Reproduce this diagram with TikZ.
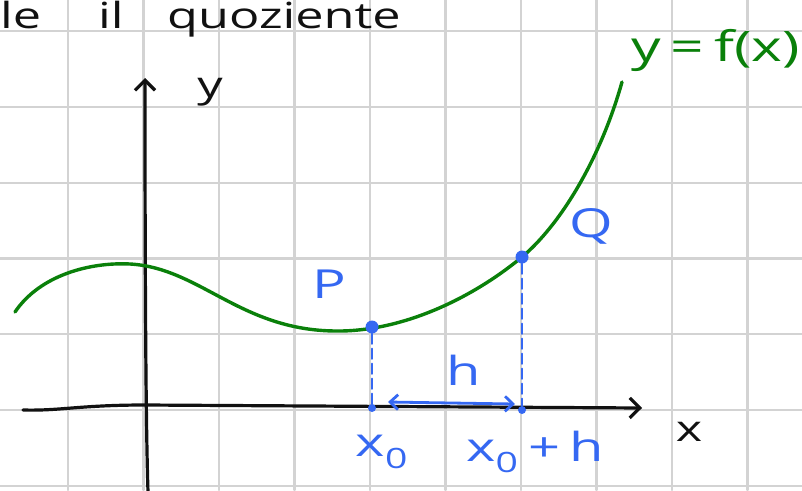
\documentclass[tikz,border=0pt]{standalone}
\usepackage{fontspec}
\setmainfont{Open Sans}
\usetikzlibrary{arrows.meta,calc,positioning}
\definecolor{gridGray}{HTML}{D3D3D3}
\definecolor{penGreen}{HTML}{0A800A}
\definecolor{penBlue}{HTML}{3568F2}
\definecolor{penInk}{HTML}{111111}
\newcommand{\wide}[1]{\scalebox{1.4}[1]{#1}}

\begin{document}
\begin{tikzpicture}[x=1pt,y=-1pt,>={Straight Barb[length=10pt,width=20pt]},line cap=round,line join=round]
\useasboundingbox (0,0) rectangle (802,490);
\clip (0,0) rectangle (802,490);
\path[fill=white] (0,0) rectangle (802,490);
\tikzset{gridline/.style={draw=gridGray,line width=2.2pt},axis/.style={draw=penInk,line width=3.2pt},curve/.style={draw=penGreen,line width=3.4pt},guide/.style={draw=penBlue,line width=2.4pt,dash pattern=on 10pt off 5pt},span/.style={draw=penBlue,line width=2.8pt,{Straight Barb[length=8pt,width=15pt]}-{Straight Barb[length=8pt,width=15pt]}},dot/.style={circle,fill=penBlue,inner sep=0pt,minimum size=13pt},footdot/.style={circle,fill=penBlue,inner sep=0pt,minimum size=8pt},ink/.style={text=penInk,font=\fontsize{36}{40}\selectfont},pen/.style={text=penBlue,font=\fontsize{40}{44}\selectfont}}
% quadretti
\foreach \gx in {0,...,9} \draw[gridline] ({68+75.5*\gx},0) -- ({68+75.5*\gx},490);
\foreach \gy in {0,...,6} \draw[gridline] (0,{31+75.8*\gy}) -- (802,{31+75.8*\gy});
% titolo
\node[ink,anchor=base west,inner sep=0pt] (tle) at (0,28) {\wide{le}};
\node[ink,anchor=base west,inner sep=0pt] (til) at (98,28) {\wide{il}};
\node[ink,anchor=base west,inner sep=0pt] (tquoz) at (167,28) {\wide{quoziente}};
% assi
\coordinate (xstart) at (23,410); \coordinate (xend) at (642,408);
\coordinate (ystart) at (148,492); \coordinate (yend) at (145,78);
\draw[axis,->] (xstart) .. controls (60,411) and (80,405) .. (145,405) -- (xend);
\draw[axis,->] (ystart) .. controls (146,430) and (145,300) .. (yend);
\node[ink] (ylab) at (210,92) {\wide{y}};
\node[ink] (xlab) at (689,432) {\wide{x}};
% funzione
\draw[curve] (15,312) .. controls (40,275) and (90,262) .. (130,264) .. controls (200,268) and (240,330) .. (335,331) .. controls (400,332) and (470,300) .. (522,257) .. controls (560,225) and (600,160) .. (622,82);
\node[text=penGreen,font=\fontsize{42}{46}\selectfont,anchor=west] (flab) at (628,50) {\wide{y\,=\,f(x)}};
% punti P e Q
\node[dot] (P) at (372,327) {};
\node[dot] (Q) at (522,257) {};
\node[footdot] (Px) at (372,408) {};
\node[footdot] (Qx) at (522,410) {};
\draw[guide] (P) -- (Px);
\draw[guide] (Q) -- (Qx);
\coordinate (hL) at (388,402); \coordinate (hR) at (515,404);
\draw[span] (hL) -- (hR);
\node[pen] (Plab) at (329,284) {\wide{P}};
\node[pen] (Qlab) at (591,226) {\wide{Q}};
\node[pen] (hlab) at (464,370) {\wide{h}};
\node[pen] (x0lab) at (382,452) {\wide{x\textsubscript{0}}};
\node[pen] (x0hlab) at (535,452) {\wide{x\textsubscript{0}\,+\,h}};
\end{tikzpicture}
\end{document}
